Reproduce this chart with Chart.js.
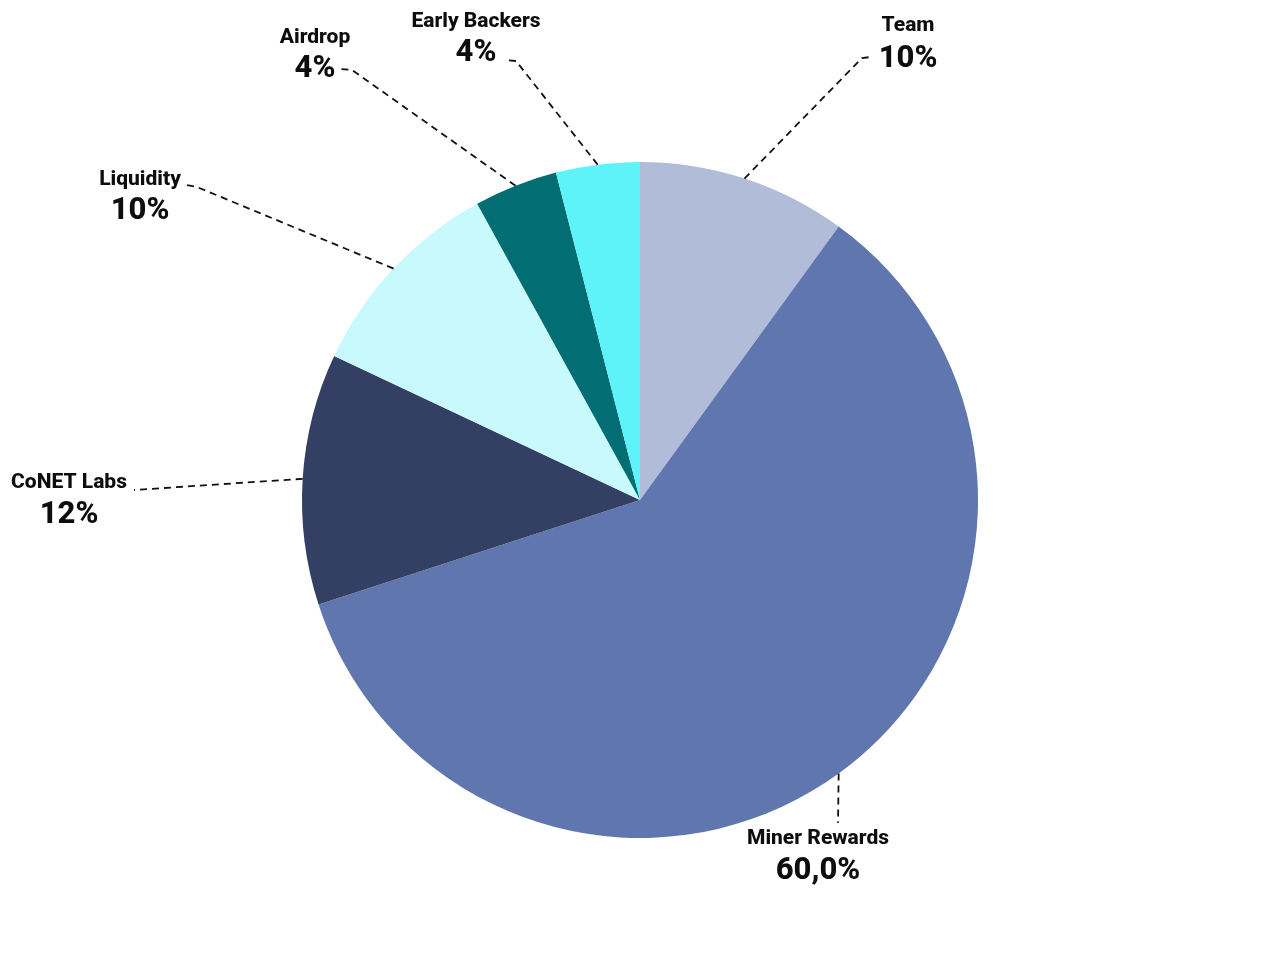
<!DOCTYPE html>
<html>
<head>
<meta charset="utf-8">
<script src="https://cdn.jsdelivr.net/npm/chart.js@4"></script>
<style>
  html, body { margin: 0; padding: 0; background: #fff; }
  #wrap { width: 1280px; height: 962px; }
</style>
</head>
<body>
<div id="wrap"><canvas id="pie"></canvas></div>
<script>
// data
const labels = ['Team', 'Miner Rewards', 'CoNET Labs', 'Liquidity', 'Airdrop', 'Early Backers'];
const shares = [10, 60, 12, 10, 4, 4];
const shareText = ['10%', '60,0%', '12%', '10%', '4%', '4%'];
const colors = ['#B0BCD8', '#5F77AE', '#344063', '#C8F9FD', '#026E74', '#5EF3F9'];

// where each label sits and how its leader line bends (canvas px)
const labelLayout = [
  { tx: 908, ny: 26, py: 59, path: [[862, 58], [871, 57]] },
  { tx: 476, ny: 22, py: 53, path: [[516, 61], [505, 60]] },
  { tx: 315, ny: 38, py: 69, path: [[352, 70], [341, 69]] },
  { tx: 140, ny: 180, py: 211, path: [[197, 187], [187, 185]] },
  { tx: 69, ny: 483, py: 515, path: [[134, 490]] },
  { tx: 818, ny: 839, py: 871, path: [[838, 823]] }
];
// layout index per data index
const layoutFor = [0, 5, 4, 3, 2, 1];

// draws dashed leader lines and the two-line labels
const leaderLabels = {
  id: 'leaderLabels',
  afterDatasetsDraw(chart) {
    const ctx = chart.ctx;
    const arcs = chart.getDatasetMeta(0).data;
    ctx.save();
    arcs.forEach((arc, i) => {
      const lay = labelLayout[layoutFor[i]];
      const mid = (arc.startAngle + arc.endAngle) / 2;
      const sx = arc.x + Math.cos(mid) * arc.outerRadius;
      const sy = arc.y + Math.sin(mid) * arc.outerRadius;

      ctx.beginPath();
      ctx.setLineDash([7, 5]);
      ctx.lineWidth = 1.8;
      ctx.strokeStyle = '#111';
      ctx.moveTo(sx, sy);
      lay.path.forEach(p => ctx.lineTo(p[0], p[1]));
      ctx.stroke();

      ctx.setLineDash([]);
      ctx.fillStyle = '#0d0d0d';
      ctx.textAlign = 'center';
      ctx.textBaseline = 'middle';
      ctx.font = '800 21px Roboto';
      ctx.fillText(labels[i], lay.tx, lay.ny);
      ctx.font = '800 31px Roboto';
      ctx.fillText(shareText[i], lay.tx, lay.py);
    });
    ctx.restore();
  }
};

new Chart(document.getElementById('pie'), {
  type: 'pie',
  data: {
    labels: labels,
    datasets: [{
      data: shares,
      backgroundColor: colors,
      borderWidth: 0
    }]
  },
  options: {
    responsive: true,
    maintainAspectRatio: false,
    animation: false,
    layout: { padding: { top: 162, bottom: 124, left: 0, right: 0 } },
    plugins: {
      legend: { display: false },
      tooltip: { enabled: false }
    }
  },
  plugins: [leaderLabels]
});
</script>
</body>
</html>
